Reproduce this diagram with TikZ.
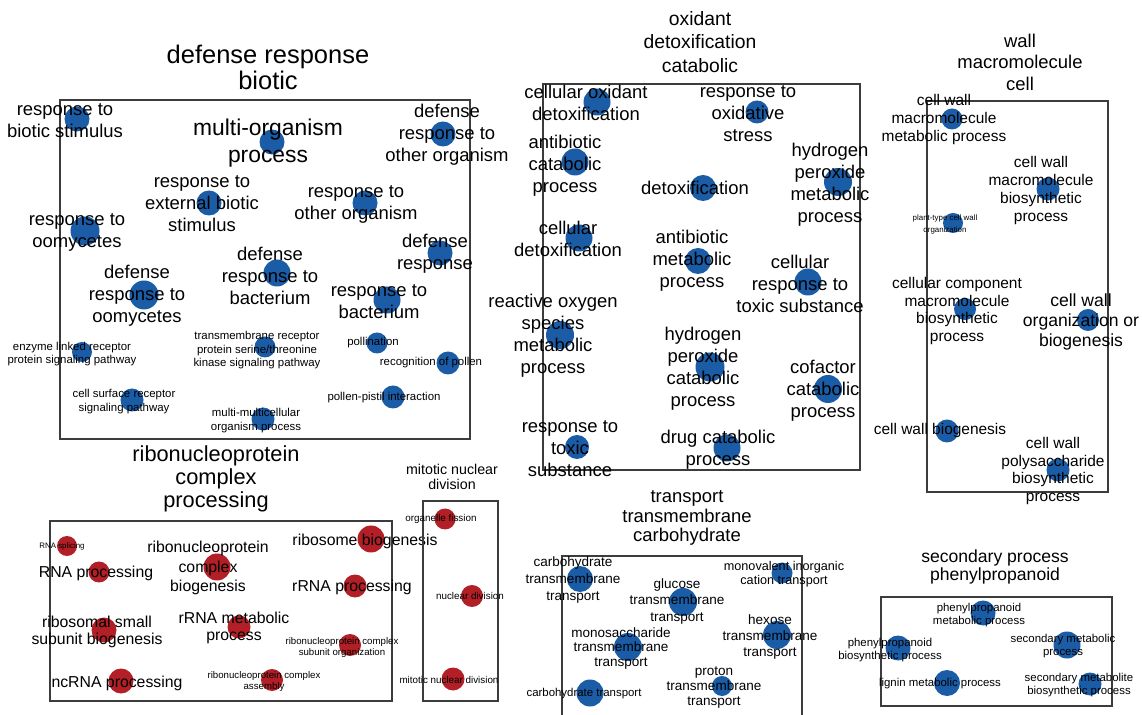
\documentclass[tikz,border=0pt]{standalone}
\usepackage{fontspec}
\setmainfont{Liberation Sans}
\usepackage{tikz}
\definecolor{dotblue}{HTML}{1B5CA6}
\definecolor{dotred}{HTML}{B21F26}
\definecolor{linkgray}{HTML}{D0D0D0}
\definecolor{frame}{HTML}{3C3C3C}
\usetikzlibrary{backgrounds}

\begin{document}
\begin{tikzpicture}[x=0.02cm,y=-0.02cm,
  term/.style={circle,fill=dotblue,inner sep=0pt,minimum size=#1*0.02cm},
  rterm/.style={term=#1,fill=dotred},
  lbl/.style={align=center,inner sep=0pt,font=\fontsize{10.5}{12.5}\selectfont},
  biglbl/.style={lbl,font=\fontsize{13}{15.5}\selectfont},
  midlbl/.style={lbl,font=\fontsize{8.8}{10.2}\selectfont},
  smlbl/.style={lbl,font=\fontsize{6.5}{7.7}\selectfont},
  tinylbl/.style={lbl,font=\fontsize{4.5}{6.8}\selectfont},
  ttl/.style={lbl,font=\fontsize{10.5}{12.2}\selectfont},
  grp/.style={draw=frame,line width=0.9pt},
  link/.style={draw=linkgray,line width=0.55pt}]
  \useasboundingbox[fill=white] (0,0) rectangle (1142,715);

  % defense response / biotic
  \node[lbl,font=\fontsize{14.5}{14.8}\selectfont] (tdef) at (268,67) {defense response\\biotic};
  \draw[grp] (60,100) rectangle (470,439);
  \node[term=25] (d1) at (77,119) {};
  \node[term=25] (d2) at (272,142) {};
  \node[term=25] (d3) at (443,134) {};
  \node[term=25] (d4) at (209,203) {};
  \node[term=25] (d5) at (365,203) {};
  \node[term=29] (d6) at (85,231) {};
  \node[term=25] (d7) at (440,253) {};
  \node[term=27] (d8) at (277,273) {};
  \node[term=29] (d9) at (144,295) {};
  \node[term=27] (d10) at (387,300) {};
  \node[term=20] (d11) at (82,352) {};
  \node[term=21] (d12) at (265,347) {};
  \node[term=21] (d13) at (377,343) {};
  \node[term=23] (d14) at (448,363) {};
  \node[term=23] (d15) at (393,397) {};
  \node[term=23] (d16) at (132,400) {};
  \node[term=23] (d17) at (263,419) {};
  \node[lbl] (d1l) at (65,121) {response to\\biotic stimulus};
  \node[biglbl] (d2l) at (268,143) {multi-organism\\process};
  \node[lbl] (d3l) at (447,135) {defense\\response to\\other organism};
  \node[lbl] (d4l) at (202,204) {response to\\external biotic\\stimulus};
  \node[lbl] (d5l) at (356,204.5) {response to\\other organism};
  \node[lbl] (d6l) at (77,232) {response to\\oomycetes};
  \node[lbl] (d7l) at (435,253.5) {defense\\response};
  \node[lbl] (d8l) at (270,276) {defense\\response to\\bacterium};
  \node[lbl] (d9l) at (137,295.5) {defense\\response to\\oomycetes};
  \node[lbl] (d10l) at (379,302) {response to\\bacterium};
  \node[smlbl] (d11l) at (72,354) {enzyme linked receptor\\protein signaling pathway};
  \node[smlbl] (d12l) at (257,350.5) {transmembrane receptor\\protein serine/threonine\\kinase signaling pathway};
  \node[smlbl] (d13l) at (373,343) {pollination};
  \node[smlbl] (d14l) at (431,363) {recognition of pollen};
  \node[smlbl] (d15l) at (384,398) {pollen-pistil interaction};
  \node[smlbl] (d16l) at (124,401.5) {cell surface receptor\\signaling pathway};
  \node[smlbl] (d17l) at (256,420.5) {multi-multicellular\\organism process};

  % oxidant / detoxification / catabolic
  \node[ttl,font=\fontsize{11}{13.3}\selectfont] (tox) at (700,42) {oxidant\\detoxification\\catabolic};
  \draw[grp] (543,84) rectangle (860,470);
  \node[term=27] (o1) at (597,102) {};
  \node[term=23] (o2) at (757,112) {};
  \node[term=27] (o3) at (575,162) {};
  \node[term=26] (o4) at (703,188) {};
  \node[term=28] (o5) at (838,182) {};
  \node[term=27] (o6) at (579,238) {};
  \node[term=26] (o7) at (698,261) {};
  \node[term=27] (o8) at (808,282) {};
  \node[term=28] (o9) at (560,335) {};
  \node[term=29] (o10) at (710,367) {};
  \node[term=28] (o11) at (828,389) {};
  \node[term=24] (o12) at (577,447) {};
  \node[term=27] (o13) at (727,448) {};
  \node[lbl] (o1l) at (586,102.5) {cellular oxidant\\detoxification};
  \node[lbl] (o2l) at (748,114) {response to\\oxidative\\stress};
  \node[lbl] (o3l) at (565,165.5) {antibiotic\\catabolic\\process};
  \node[lbl] (o4l) at (695,188) {detoxification};
  \node[lbl] (o5l) at (830,184.5) {hydrogen\\peroxide\\metabolic\\process};
  \node[lbl] (o6l) at (568,239) {cellular\\detoxification};
  \node[lbl] (o7l) at (692,260.5) {antibiotic\\metabolic\\process};
  \node[lbl] (o8l) at (800,284) {cellular\\response to\\toxic substance};
  \node[lbl] (o9l) at (553,336) {reactive oxygen\\species\\metabolic\\process};
  \node[lbl] (o10l) at (703,368.5) {hydrogen\\peroxide\\catabolic\\process};
  \node[lbl] (o11l) at (823,390.5) {cofactor\\catabolic\\process};
  \node[lbl] (o12l) at (570,448.5) {response to\\toxic\\substance};
  \node[lbl] (o13l) at (718,449.5) {drug catabolic\\process};

  % wall / macromolecule / cell
  \node[ttl] (twall) at (1020,62) {wall\\macromolecule\\cell};
  \draw[grp] (927,101) rectangle (1108,492);
  \node[term=21] (w1) at (952,119) {};
  \node[term=23] (w2) at (1048,189) {};
  \node[term=20] (w3) at (953,223) {};
  \node[term=22] (w4) at (965,309) {};
  \node[term=22] (w5) at (1088,320) {};
  \node[term=23] (w6) at (947,431) {};
  \node[term=23] (w7) at (1058,470) {};
  \node[midlbl] (w1l) at (944,119.5) {cell wall\\macromolecule\\metabolic process};
  \node[midlbl] (w2l) at (1041,190.5) {cell wall\\macromolecule\\biosynthetic\\process};
  \node[tinylbl] (w3l) at (945,224) {plant-type cell wall\\organization};
  \node[midlbl] (w4l) at (957,311) {cellular component\\macromolecule\\biosynthetic\\process};
  \node[lbl,font=\fontsize{10}{11.3}\selectfont] (w5l) at (1081,322) {cell wall\\organization or\\biogenesis};
  \node[midlbl] (w6l) at (940,431) {cell wall biogenesis};
  \node[midlbl] (w7l) at (1053,471) {cell wall\\polysaccharide\\biosynthetic\\process};

  % ribonucleoprotein / complex / processing
  \node[ttl,font=\fontsize{12.4}{13.3}\selectfont] (tribo) at (216,479) {ribonucleoprotein\\complex\\processing};
  \draw[grp] (50,521) rectangle (392,701);
  \node[rterm=20] (r1) at (67,546) {};
  \node[rterm=21] (r2) at (99,572) {};
  \node[rterm=27] (r3) at (217,567) {};
  \node[rterm=27] (r4) at (371,539) {};
  \node[rterm=23] (r5) at (355,586) {};
  \node[rterm=25] (r6) at (104,630) {};
  \node[rterm=23] (r7) at (239,627) {};
  \node[rterm=22] (r8) at (350,645) {};
  \node[rterm=25] (r9) at (121,681) {};
  \node[rterm=22] (r10) at (272,680) {};
  \node[tinylbl] (r1l) at (62,546) {RNA splicing};
  \node[lbl,font=\fontsize{9}{10.5}\selectfont] (r2l) at (96,573) {RNA processing};
  \node[lbl,font=\fontsize{9}{11}\selectfont] (r3l) at (208,568) {ribonucleoprotein\\complex\\biogenesis};
  \node[lbl,font=\fontsize{9}{10.5}\selectfont] (r4l) at (365,541) {ribosome biogenesis};
  \node[lbl,font=\fontsize{9}{10.5}\selectfont] (r5l) at (352,587) {rRNA processing};
  \node[lbl,font=\fontsize{9}{9.5}\selectfont] (r6l) at (97,632) {ribosomal small\\subunit biogenesis};
  \node[lbl,font=\fontsize{9}{9.5}\selectfont] (r7l) at (234,628) {rRNA metabolic\\process};
  \node[lbl,font=\fontsize{5.5}{6.3}\selectfont] (r8l) at (342,647.5) {ribonucleoprotein complex\\subunit organization};
  \node[lbl,font=\fontsize{9}{10.5}\selectfont] (r9l) at (117,683) {ncRNA processing};
  \node[lbl,font=\fontsize{5.5}{6.3}\selectfont] (r10l) at (264,681.5) {ribonucleoprotein complex\\assembly};

  % mitotic nuclear division
  \node[ttl,font=\fontsize{8.1}{8.6}\selectfont] (tmit) at (452,477) {mitotic nuclear\\division};
  \draw[grp] (423,501) rectangle (498,701);
  \node[rterm=21] (m1) at (445,519) {};
  \node[rterm=22] (m2) at (472,596) {};
  \node[rterm=23] (m3) at (453,679) {};
  \node[lbl,font=\fontsize{5.6}{6.5}\selectfont] (m1l) at (441,519) {organelle fission};
  \node[lbl,font=\fontsize{5.6}{6.5}\selectfont] (m2l) at (470,596) {nuclear division};
  \node[lbl,font=\fontsize{5.6}{6.5}\selectfont] (m3l) at (449,680) {mitotic nuclear division};

  % transport / transmembrane / carbohydrate
  \node[ttl,font=\fontsize{10.5}{11}\selectfont] (ttra) at (687,518) {transport\\transmembrane\\carbohydrate};
  \draw[grp] (562,718) -- (562,556) -- (802,556) -- (802,718);
  \node[term=26] (t1) at (580,579) {};
  \node[term=28] (t2) at (683,602) {};
  \node[term=21] (t3) at (782,573) {};
  \node[term=28] (t4) at (777,635) {};
  \node[term=28] (t5) at (628,647) {};
  \node[term=20] (t6) at (722,686) {};
  \node[term=27] (t7) at (590,693) {};
  \node[lbl,font=\fontsize{7.7}{9.6}\selectfont] (t1l) at (573,580) {carbohydrate\\transmembrane\\transport};
  \node[lbl,font=\fontsize{7.7}{9.2}\selectfont] (t2l) at (677,601.5) {glucose\\transmembrane\\transport};
  \node[lbl,font=\fontsize{7.2}{8}\selectfont] (t3l) at (784,574) {monovalent inorganic\\cation transport};
  \node[lbl,font=\fontsize{7.7}{9.2}\selectfont] (t4l) at (770,637) {hexose\\transmembrane\\transport};
  \node[lbl,font=\fontsize{7.7}{8.3}\selectfont] (t5l) at (621,648.5) {monosaccharide\\transmembrane\\transport};
  \node[lbl,font=\fontsize{7.7}{8.8}\selectfont] (t6l) at (714,687.5) {proton\\transmembrane\\transport};
  \node[lbl,font=\fontsize{6.5}{7.5}\selectfont] (t7l) at (584,694) {carbohydrate transport};

  % secondary process / phenylpropanoid
  \node[ttl,font=\fontsize{10}{10.3}\selectfont] (tsec) at (995,567) {secondary process\\phenylpropanoid};
  \draw[grp] (881,597) rectangle (1112,706);
  \node[term=25] (s1) at (983,613) {};
  \node[term=25] (s2) at (898,648) {};
  \node[term=27] (s3) at (1067,645) {};
  \node[term=26] (s4) at (947,683) {};
  \node[term=23] (s5) at (1090,684) {};
  \node[smlbl,font=\fontsize{6.5}{7.4}\selectfont] (s1l) at (979,615.5) {phenylpropanoid\\metabolic process};
  \node[smlbl,font=\fontsize{6.5}{7.4}\selectfont] (s2l) at (890,650.5) {phenylpropanoid\\biosynthetic process};
  \node[smlbl,font=\fontsize{6.5}{7.4}\selectfont] (s3l) at (1063,646.5) {secondary metabolic\\process};
  \node[smlbl] (s4l) at (940,684) {lignin metabolic process};
  \node[smlbl,font=\fontsize{6.5}{7.4}\selectfont] (s5l) at (1079,685) {secondary metabolite\\biosynthetic process};

  \begin{scope}[on background layer]
    \foreach \a/\b in {d1/d2,d1/d3,d1/d4,d1/d5,d1/d6,d1/d7,d1/d8,d1/d9,d1/d10,d1/d11,
        d2/d3,d2/d4,d2/d5,d2/d6,d2/d7,d2/d8,d2/d9,d2/d10,
        d3/d4,d3/d5,d3/d6,d3/d7,d3/d8,d3/d9,d3/d10,
        d4/d5,d4/d6,d4/d7,d4/d8,d4/d9,d4/d10,
        d5/d6,d5/d7,d5/d8,d5/d9,d5/d10,
        d6/d7,d6/d8,d6/d9,d6/d10,d6/d11,
        d7/d8,d7/d9,d7/d10,d8/d9,d8/d10,d8/d12,
        d9/d10,d9/d11,d9/d12,d11/d12,d11/d16,d12/d16,d12/d17,
        d10/d13,d10/d14,d13/d14,d13/d15,d13/d17,d14/d15,d14/d17,d15/d17}
      \draw[link] (\a) -- (\b);
    \foreach \i in {1,...,12}{
      \pgfmathtruncatemacro\j{\i+1}
      \foreach \k in {\j,...,13}
        \draw[link] (o\i) -- (o\k);
    }
    \foreach \a/\b in {w1/w2,w1/w3,w1/w4,w1/w5,w1/w6,w1/w7,w2/w4,w2/w5,w2/w6,w2/w7,
        w3/w4,w3/w5,w3/w6,w4/w5,w4/w6,w4/w7,w5/w6,w6/w7}
      \draw[link] (\a) -- (\b);
    \foreach \a/\b in {r1/r2,r2/r3,r2/r5,r2/r6,r2/r7,r3/r4,r3/r5,r3/r6,r3/r7,r3/r8,r3/r10,
        r4/r5,r4/r6,r4/r7,r5/r7,r5/r9,r6/r9,r7/r9,r7/r10,r8/r10}
      \draw[link] (\a) -- (\b);
    \foreach \a/\b in {m1/m2,m1/m3,m2/m3}
      \draw[link] (\a) -- (\b);
    \foreach \a/\b in {t1/t2,t1/t4,t1/t5,t1/t7,t2/t4,t2/t5,t2/t6,t3/t4,t4/t5,t4/t6,t4/t7,t5/t6,t5/t7}
      \draw[link] (\a) -- (\b);
    \foreach \a/\b in {s1/s2,s1/s3,s1/s4,s1/s5,s2/s3,s2/s5,s3/s4,s3/s5}
      \draw[link] (\a) -- (\b);
  \end{scope}
\end{tikzpicture}
\end{document}
